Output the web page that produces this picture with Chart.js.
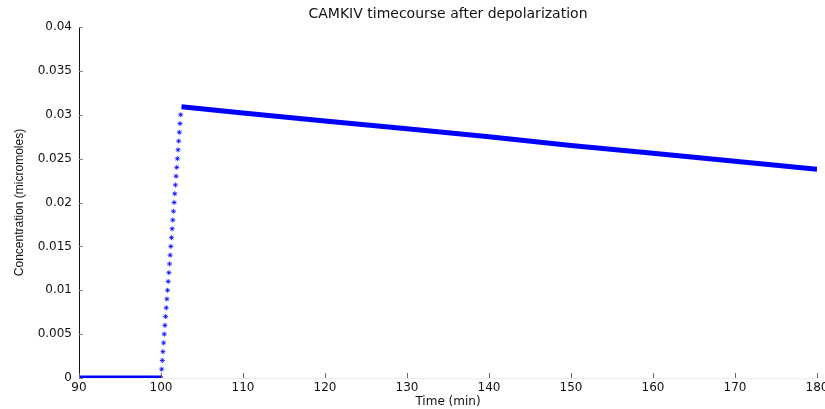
<!DOCTYPE html>
<html>
<head>
<meta charset="utf-8">
<script src="https://cdn.jsdelivr.net/npm/chart.js@4/dist/chart.umd.min.js"></script>
<style>
  html, body { margin: 0; padding: 0; background: #fff; }
  #wrap { width: 825px; height: 409px; }
</style>
</head>
<body>
<div id="wrap"><canvas id="camkChart"></canvas></div>
<script>
// baseline before depolarization
const flatTime = [90, 92, 94, 96, 98, 100];
const flatConc = [0, 0, 0, 0, 0, 0];

// fast rise right after depolarization
const riseTime = [100.00, 100.08, 100.16, 100.24, 100.32, 100.40, 100.48, 100.56, 100.64, 100.72,
                  100.80, 100.88, 100.96, 101.04, 101.12, 101.20, 101.28, 101.36, 101.44, 101.52,
                  101.60, 101.68, 101.76, 101.84, 101.92, 102.00, 102.08, 102.16, 102.24, 102.32, 102.40];
const riseConc = [0.000, 0.001, 0.002, 0.003, 0.004, 0.005, 0.006, 0.007, 0.008, 0.009,
                  0.010, 0.011, 0.012, 0.013, 0.014, 0.015, 0.016, 0.017, 0.018, 0.019,
                  0.020, 0.021, 0.022, 0.023, 0.024, 0.025, 0.026, 0.027, 0.028, 0.029, 0.030];

// slow decay afterwards
const decayTime = [102.5, 110, 120, 130, 140, 150, 160, 170, 180];
const decayConc = [0.0309, 0.0302, 0.0293, 0.0284, 0.0275, 0.0265, 0.0256, 0.0247, 0.0238];

const yTicks = [0, 0.005, 0.01, 0.015, 0.02, 0.025, 0.03, 0.035, 0.04];
const xTicks = [90, 100, 110, 120, 130, 140, 150, 160, 170, 180];

const titleText = 'CAMKIV timecourse after depolarization';

const toPoints = (xs, ys) => xs.map((x, i) => ({ x: x, y: ys[i] }));

const FONT = { family: '"DejaVu Sans", sans-serif', size: 12 };
const VFONT = { family: '"Liberation Sans", Arial, sans-serif', size: 12 };
const BLUE = '#0000ff';

// title centred over the plot area instead of the whole canvas
const axesTitle = {
    id: 'axesTitle',
    afterDraw(chart) {
        const { ctx, chartArea } = chart;
        ctx.save();
        ctx.font = '14px "DejaVu Sans", sans-serif';
        ctx.fillStyle = '#111';
        ctx.textAlign = 'center';
        ctx.textBaseline = 'middle';
        ctx.fillText(titleText, (chartArea.left + chartArea.right) / 2, 14);
        ctx.restore();
    }
};

// small tick marks pointing into the plot area
const innerTicks = {
    id: 'innerTicks',
    afterDatasetsDraw(chart) {
        const { ctx, chartArea, scales } = chart;
        ctx.save();
        ctx.strokeStyle = '#666';
        ctx.lineWidth = 1;
        xTicks.forEach(v => {
            const px = Math.round(scales.x.getPixelForValue(v)) + 0.5;
            ctx.beginPath();
            ctx.moveTo(px, chartArea.bottom);
            ctx.lineTo(px, chartArea.bottom - 5);
            ctx.stroke();
        });
        ctx.strokeStyle = '#888';
        yTicks.forEach(v => {
            const py = Math.round(scales.y.getPixelForValue(v)) + 0.5;
            ctx.beginPath();
            ctx.moveTo(chartArea.left, py);
            ctx.lineTo(chartArea.left + 4, py);
            ctx.stroke();
        });
        ctx.restore();
    }
};

new Chart(document.getElementById('camkChart'), {
    type: 'scatter',
    data: {
        datasets: [
            {
                data: toPoints(flatTime, flatConc),
                showLine: true,
                borderColor: BLUE,
                borderWidth: 5,
                pointRadius: 0
            },
            {
                data: toPoints(riseTime, riseConc),
                showLine: false,
                pointStyle: 'star',
                pointRadius: 2.5,
                borderColor: BLUE,
                backgroundColor: BLUE,
                borderWidth: 0.8
            },
            {
                data: toPoints(decayTime, decayConc),
                showLine: true,
                borderColor: BLUE,
                borderWidth: 5,
                pointRadius: 0
            }
        ]
    },
    options: {
        responsive: true,
        maintainAspectRatio: false,
        animation: false,
        layout: { padding: { left: 0, right: 8, top: 27, bottom: 0 } },
        plugins: {
            legend: { display: false },
            tooltip: { enabled: false },
            title: { display: false }
        },
        scales: {
            x: {
                type: 'linear',
                min: 90,
                max: 180,
                afterBuildTicks: s => { s.ticks = xTicks.map(v => ({ value: v })); },
                afterFit: s => { s.height = 31; s.paddingLeft = 0; s.paddingRight = 0; },
                grid: { display: false, drawTicks: false },
                border: { display: true, color: '#eee' },
                ticks: { color: '#111', font: FONT, padding: 3, maxRotation: 0, autoSkip: false },
                title: { display: true, text: 'Time (min)', color: '#111', font: FONT, padding: { top: 0, bottom: 0 } }
            },
            y: {
                min: 0,
                max: 0.04,
                afterBuildTicks: s => { s.ticks = yTicks.map(v => ({ value: v })); },
                afterFit: s => { s.width = 79; s.paddingTop = 0; s.paddingBottom = 0; },
                grid: { display: false, drawTicks: false },
                border: { display: true, color: '#111', width: 1 },
                ticks: { color: '#111', font: FONT, padding: 7, callback: v => String(v) },
                title: { display: true, text: 'Concentration (micromoles)', color: '#111', font: VFONT, padding: { top: 12, bottom: 0 } }
            }
        }
    },
    plugins: [innerTicks, axesTitle]
});
</script>
</body>
</html>
